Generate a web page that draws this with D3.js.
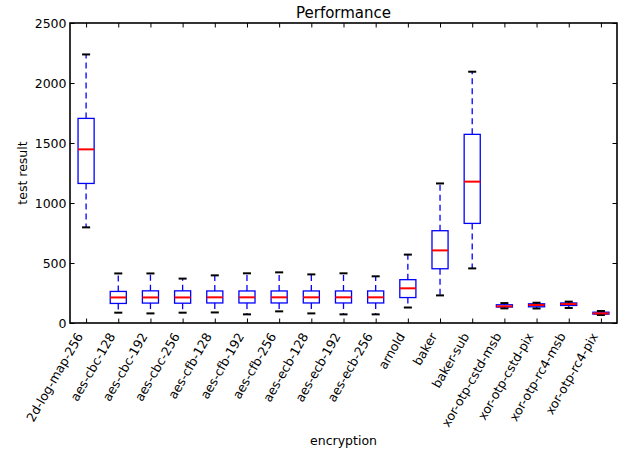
<!DOCTYPE html>
<html>
<head>
<meta charset="utf-8">
<script src="https://cdn.jsdelivr.net/npm/d3@7"></script>
<style>
  html, body { margin: 0; padding: 0; background: #fff; }
  svg { display: block; }
  text { font-family: "DejaVu Sans", sans-serif; fill: #000; }
</style>
</head>
<body>
<svg id="chart" width="619" height="451"></svg>
<script>
// ---- data ----
const categories = ["2d-log-map-256","aes-cbc-128","aes-cbc-192","aes-cbc-256","aes-cfb-128","aes-cfb-192","aes-cfb-256","aes-ecb-128","aes-ecb-192","aes-ecb-256","arnold","baker","baker-sub","xor-otp-cstd-msb","xor-otp-cstd-pix","xor-otp-rc4-msb","xor-otp-rc4-pix"];
const whiskerLow  = [797, 86, 80, 86, 88, 72, 97, 80, 72, 72, 129, 230, 455, 122, 121, 125, 67];
const q1          = [1163, 163, 166, 165, 167, 167, 167, 167, 167, 167, 212, 452, 830, 133, 135, 146, 74];
const median      = [1447, 213, 213, 213, 214, 214, 214, 214, 214, 214, 289, 605, 1178, 139, 150, 158, 80];
const q3          = [1705, 263, 268, 268, 267, 267, 267, 267, 267, 267, 361, 769, 1572, 152, 160, 167, 90];
const whiskerHigh = [2238, 413, 413, 370, 397, 414, 422, 405, 414, 389, 570, 1163, 2094, 166, 169, 178, 100];
const yTicks = [0, 500, 1000, 1500, 2000, 2500];
const title = "Performance";
const xLabel = "encryption";
const yLabel = "test result";

// ---- layout ----
const L = 70, T = 23, R = 617, B = 323;
const svg = d3.select("#chart");
const x = d3.scaleLinear().domain([0.5, categories.length + 0.5]).range([L, R]);
const y = d3.scaleLinear().domain([0, 2500]).range([B, T]);
const step = x(2) - x(1);
const boxW = 0.5 * step, capW = 0.25 * step;

const data = categories.map((c, i) => ({
  c, pos: i + 1, lo: whiskerLow[i], q1: q1[i], med: median[i], q3: q3[i], hi: whiskerHigh[i]
}));

const g = svg.append("g");
const boxes = g.selectAll("g.box").data(data).enter().append("g");

// whiskers
boxes.append("line")
  .attr("x1", d => x(d.pos)).attr("x2", d => x(d.pos))
  .attr("y1", d => y(d.q3)).attr("y2", d => y(d.hi))
  .attr("stroke", "#0000ff").attr("stroke-width", 1.3).attr("stroke-dasharray", "6,4");
boxes.append("line")
  .attr("x1", d => x(d.pos)).attr("x2", d => x(d.pos))
  .attr("y1", d => y(d.q1)).attr("y2", d => y(d.lo))
  .attr("stroke", "#0000ff").attr("stroke-width", 1.3).attr("stroke-dasharray", "6,4");
// box
boxes.append("rect")
  .attr("x", d => x(d.pos) - boxW / 2).attr("width", boxW)
  .attr("y", d => y(d.q3)).attr("height", d => y(d.q1) - y(d.q3))
  .attr("fill", "none").attr("stroke", "#0000ff").attr("stroke-width", 1.3);
// caps
["lo", "hi"].forEach(k => {
  boxes.append("line")
    .attr("x1", d => x(d.pos) - capW / 2).attr("x2", d => x(d.pos) + capW / 2)
    .attr("y1", d => y(d[k])).attr("y2", d => y(d[k]))
    .attr("stroke", "#000").attr("stroke-width", 2);
});
// medians
boxes.append("line")
  .attr("x1", d => x(d.pos) - boxW / 2).attr("x2", d => x(d.pos) + boxW / 2)
  .attr("y1", d => y(d.med)).attr("y2", d => y(d.med))
  .attr("stroke", "#ff0000").attr("stroke-width", 2);

// ---- axes ----
const tickLen = 4.5;
const fs = 12.5;
// left axis
const leftAx = svg.append("g").attr("transform", `translate(${L},0)`)
  .call(d3.axisLeft(y).tickValues(yTicks).tickSizeInner(-tickLen).tickSizeOuter(0).tickPadding(3.5).tickFormat(d3.format("d")));
leftAx.select(".domain").remove();
leftAx.selectAll("text").attr("font-size", fs).attr("font-family", "DejaVu Sans");
leftAx.selectAll("line").attr("stroke", "#000");
// right axis ticks
const rightAx = svg.append("g").attr("transform", `translate(${R},0)`)
  .call(d3.axisRight(y).tickValues(yTicks).tickSizeInner(-tickLen).tickSizeOuter(0).tickFormat(""));
rightAx.select(".domain").remove();
rightAx.selectAll("line").attr("stroke", "#000");
// bottom axis
const bottomAx = svg.append("g").attr("transform", `translate(0,${B})`)
  .call(d3.axisBottom(x).tickValues(data.map(d => d.pos)).tickSizeInner(-tickLen).tickSizeOuter(0).tickFormat(d => categories[d - 1]));
bottomAx.select(".domain").remove();
bottomAx.selectAll("line").attr("stroke", "#000");
bottomAx.selectAll("text")
  .attr("font-size", fs).attr("font-family", "DejaVu Sans")
  .attr("text-anchor", "end")
  .attr("dy", null).attr("y", null)
  .attr("transform", "translate(-3,13) rotate(-60)");
// top axis ticks
const topAx = svg.append("g").attr("transform", `translate(0,${T})`)
  .call(d3.axisTop(x).tickValues(data.map(d => d.pos)).tickSizeInner(-tickLen).tickSizeOuter(0).tickFormat(""));
topAx.select(".domain").remove();
topAx.selectAll("line").attr("stroke", "#000");

// frame
svg.append("rect").attr("x", L).attr("y", T).attr("width", R - L).attr("height", B - T)
  .attr("fill", "none").attr("stroke", "#000").attr("stroke-width", 1.6);

// ---- labels ----
svg.append("text").attr("x", (L + R) / 2).attr("y", 17.5).attr("text-anchor", "middle")
  .attr("font-size", 15).text(title);
svg.append("text").attr("x", (L + R) / 2).attr("y", 445).attr("text-anchor", "middle")
  .attr("font-size", fs).text(xLabel);
svg.append("text").attr("transform", `translate(26.5,${(T + B) / 2}) rotate(-90)`)
  .attr("text-anchor", "middle").attr("font-size", fs).text(yLabel);
</script>
</body>
</html>
